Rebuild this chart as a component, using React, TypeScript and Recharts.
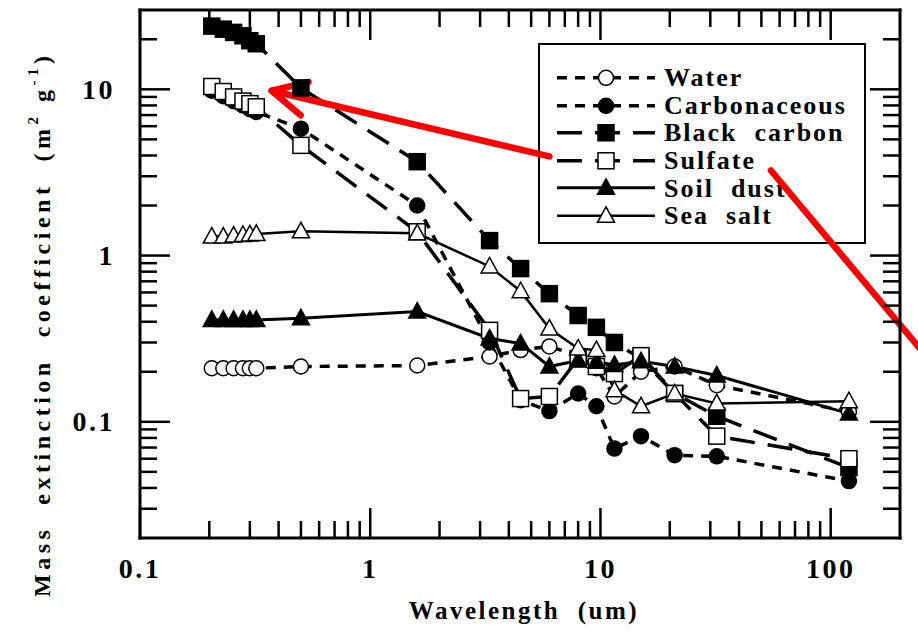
import React from "react";
import { LineChart, Line, XAxis, YAxis, Legend, ReferenceLine, Label } from "recharts";

// band centres (um)
const wavelengths = [0.205, 0.23, 0.255, 0.28, 0.3, 0.32, 0.5, 1.6, 3.3, 4.5, 6, 8, 9.6, 11.5, 15, 21, 32, 120];

// mass extinction coefficient (m2/g)
const water = [0.21, 0.21, 0.21, 0.21, 0.21, 0.21, 0.215, 0.218, 0.247, 0.27, 0.284, 0.25, 0.21, 0.142, 0.2, 0.215, 0.166, 0.115];
const carbonaceous = [9.8, 9.1, 8.5, 8.0, 7.6, 7.3, 5.8, 2.0, 0.3, 0.135, 0.116, 0.148, 0.124, 0.069, 0.082, 0.063, 0.062, 0.044];
const blackCarbon = [24, 23, 22, 21, 19.6, 18.8, 10.2, 3.67, 1.23, 0.835, 0.59, 0.436, 0.37, 0.3, 0.24, 0.148, 0.108, 0.053];
const sulfate = [10.4, 9.7, 9.0, 8.5, 8.2, 7.85, 4.6, 1.39, 0.355, 0.138, 0.142, 0.24, 0.215, 0.195, 0.25, 0.148, 0.082, 0.06];
const soilDust = [0.41, 0.41, 0.41, 0.41, 0.41, 0.41, 0.42, 0.46, 0.317, 0.296, 0.215, 0.234, 0.23, 0.22, 0.231, 0.215, 0.19, 0.112];
const seaSalt = [1.3, 1.3, 1.32, 1.33, 1.34, 1.35, 1.4, 1.36, 0.86, 0.61, 0.364, 0.276, 0.27, 0.155, 0.124, 0.148, 0.129, 0.133];

const xMajorTicks = [0.1, 1, 10, 100];
const xMinorTicks = [0.2, 0.3, 0.4, 0.5, 0.6, 0.7, 0.8, 0.9, 2, 3, 4, 5, 6, 7, 8, 9, 20, 30, 40, 50, 60, 70, 80, 90];
const yMajorTicks = [0.1, 1, 10];
const yMinorTicks = [0.03, 0.04, 0.05, 0.06, 0.07, 0.08, 0.09, 0.2, 0.3, 0.4, 0.5, 0.6, 0.7, 0.8, 0.9, 2, 3, 4, 5, 6, 7, 8, 9, 20];

// red annotation strokes drawn over the figure (tip first)
const arrowSegments = [
  { tip: { x: 0.373, y: 9.8 }, tail: { x: 6.0, y: 3.95 }, head: true },
  { tip: { x: 250, y: 0.265 }, tail: { x: 55, y: 3.25 }, head: false },
];

const data = wavelengths.map((w, i) => ({
  w,
  water: water[i],
  carbonaceous: carbonaceous[i],
  blackCarbon: blackCarbon[i],
  sulfate: sulfate[i],
  soilDust: soilDust[i],
  seaSalt: seaSalt[i],
}));

const FONT = '"Liberation Serif", "Times New Roman", serif';
const MAJOR = 30;
const MINOR = 17;

const series = [
  { key: "water", name: "Water", dash: "10 8", width: 3.5, shape: "circle", filled: false },
  { key: "carbonaceous", name: "Carbonaceous", dash: "10 8", width: 3.5, shape: "circle", filled: true },
  { key: "blackCarbon", name: "Black  carbon", dash: "25 13", width: 3.5, shape: "square", filled: true },
  { key: "sulfate", name: "Sulfate", dash: "25 13", width: 3.5, shape: "square", filled: false },
  { key: "soilDust", name: "Soil  dust", dash: undefined, width: 3, shape: "triangle", filled: true },
  { key: "seaSalt", name: "Sea  salt", dash: undefined, width: 2.5, shape: "triangle", filled: false },
];

function Marker({ cx, cy, shape, filled }: any) {
  const fill = filled ? "#000" : "#fff";
  if (shape === "circle") return <circle cx={cx} cy={cy} r={7.5} fill={fill} stroke="#000" strokeWidth={1.5} />;
  if (shape === "square")
    return <rect x={cx - 8} y={cy - 8} width={16} height={16} fill={fill} stroke="#000" strokeWidth={1.5} />;
  return (
    <polygon
      points={`${cx},${cy - 9} ${cx - 8.5},${cy + 6.5} ${cx + 8.5},${cy + 6.5}`}
      fill={fill}
      stroke="#000"
      strokeWidth={1.5}
    />
  );
}

function XTick(props: any) {
  const { x, y, payload, side } = props;
  const v = payload.value;
  const major = xMajorTicks.includes(v);
  const len = major ? MAJOR : MINOR;
  const dir = side === "bottom" ? -1 : 1;
  return (
    <g>
      <line x1={x} x2={x} y1={y} y2={y + dir * len} stroke="#000" strokeWidth={2.5} />
      {side === "bottom" && major && (
        <text x={x} y={y + 30} textAnchor="middle" dominantBaseline="central" fontFamily={FONT} fontWeight="bold" fontSize={28} letterSpacing={2.5} fill="#000">
          {String(v)}
        </text>
      )}
    </g>
  );
}

function YTick(props: any) {
  const { x, y, payload, side } = props;
  const v = payload.value;
  const major = yMajorTicks.includes(v);
  const len = major ? MAJOR : MINOR;
  const dir = side === "left" ? 1 : -1;
  return (
    <g>
      <line x1={x} x2={x + dir * len} y1={y} y2={y} stroke="#000" strokeWidth={2.5} />
      {side === "left" && major && (
        <text x={x - 25} y={y} textAnchor="end" dominantBaseline="central" fontFamily={FONT} fontWeight="bold" fontSize={28} letterSpacing={2.5} fill="#000">
          {String(v)}
        </text>
      )}
    </g>
  );
}

function arrowShape(p: any) {
  const { x1, y1, x2, y2, head } = p;
  const ang = Math.atan2(y2 - y1, x2 - x1);
  const b = 38;
  const spread = 0.47;
  return (
    <g>
      <line x1={x1} y1={y1} x2={x2} y2={y2} stroke="#ff0000" strokeWidth={6.5} strokeLinecap="round" />
      {head && (
        <polyline
          points={`${x1 + b * Math.cos(ang - spread)},${y1 + b * Math.sin(ang - spread)} ${x1},${y1} ${x1 + b * Math.cos(ang + spread)},${y1 + b * Math.sin(ang + spread)}`}
          fill="none"
          stroke="#ff0000"
          strokeWidth={6.5}
          strokeLinecap="round"
          strokeLinejoin="round"
        />
      )}
    </g>
  );
}

function LegendBox() {
  return (
    <div
      style={{
        boxSizing: "border-box",
        width: 328,
        height: 201,
        border: "2.5px solid #000",
        background: "#fff",
        paddingTop: 19,
        fontFamily: FONT,
      }}
    >
      {series.map((s) => (
        <div key={s.key} style={{ display: "flex", alignItems: "center", height: 27.6 }}>
          <svg width={124} height={27.6} style={{ display: "block" }}>
            <line x1={17} x2={115} y1={13.8} y2={13.8} stroke="#000" strokeWidth={s.width} strokeDasharray={s.dash} />
            <Marker cx={66} cy={13.8} shape={s.shape} filled={s.filled} />
          </svg>
          <span style={{ fontWeight: "bold", fontSize: 26, letterSpacing: 2, whiteSpace: "pre", lineHeight: "27px" }}>
            {s.name}
          </span>
        </div>
      ))}
    </div>
  );
}

const axisLine = { stroke: "#000", strokeWidth: 3, strokeLinecap: "square" as const };
const xTicks = [...xMajorTicks, ...xMinorTicks].sort((a, b) => a - b);
const yTicks = [...yMajorTicks, ...yMinorTicks].sort((a, b) => a - b);

export default function App() {
  return (
    <div style={{ position: "absolute", left: 0, top: 0, zIndex: 0, background: "#fff" }}>
      <LineChart width={918} height={633} data={data} margin={{ top: 9, right: 17, bottom: 0, left: 0 }}>
        <XAxis
          dataKey="w"
          type="number"
          scale="log"
          domain={[0.1, 200]}
          allowDataOverflow
          ticks={xTicks}
          interval={0}
          tickLine={false}
          tickSize={0}
          tickMargin={0}
          tick={(p: any) => <XTick {...p} side="bottom" />}
          axisLine={axisLine}
          height={95}
        >
          <Label
            content={(p: any) => {
              const vb = p.viewBox;
              return (
                <text x={vb.x + vb.width / 2 + 4} y={vb.y + 72} textAnchor="middle" dominantBaseline="central" fontFamily={FONT} fontWeight="bold" fontSize={25} letterSpacing={2.5} style={{ whiteSpace: "pre" }} fill="#000">
                  Wavelength  (um)
                </text>
              );
            }}
          />
        </XAxis>
        <XAxis
          xAxisId="top"
          dataKey="w"
          orientation="top"
          type="number"
          scale="log"
          domain={[0.1, 200]}
          allowDataOverflow
          ticks={xTicks}
          interval={0}
          tickLine={false}
          tickSize={0}
          tickMargin={0}
          tick={(p: any) => <XTick {...p} side="top" />}
          axisLine={axisLine}
          height={1}
        />
        <YAxis
          type="number"
          scale="log"
          domain={[0.02, 30]}
          allowDataOverflow
          ticks={yTicks}
          interval={0}
          tickLine={false}
          tickSize={0}
          tickMargin={0}
          tick={(p: any) => <YTick {...p} side="left" />}
          axisLine={axisLine}
          width={140}
        >
          <Label
            content={() => {
              const cx = 42;
              const cy = 597;
              return (
                <text x={cx} y={cy} transform={`rotate(-90 ${cx} ${cy})`} textAnchor="start" dominantBaseline="central" fontFamily={FONT} fontWeight="bold" fontSize={24} letterSpacing={4.5} style={{ whiteSpace: "pre" }} fill="#000">
                  {"Mass  extinction  coefficient  (m"}
                  <tspan dy={-9} fontSize={15}>2</tspan>
                  <tspan dy={9}>{" g"}</tspan>
                  <tspan dy={-9} fontSize={15}>{"-1"}</tspan>
                  <tspan dy={9}>)</tspan>
                </text>
              );
            }}
          />
        </YAxis>
        <YAxis
          yAxisId="right"
          orientation="right"
          type="number"
          scale="log"
          domain={[0.02, 30]}
          allowDataOverflow
          ticks={yTicks}
          interval={0}
          tickLine={false}
          tickSize={0}
          tickMargin={0}
          tick={(p: any) => <YTick {...p} side="right" />}
          axisLine={axisLine}
          width={1}
        />
        <Legend
          layout="vertical"
          align="center"
          verticalAlign="middle"
          wrapperStyle={{ left: 538, top: 43, width: 328, zIndex: -1 }}
          content={() => <LegendBox />}
        />
        {/* invisible series that ties the mirrored frame axes to the data */}
        <Line
          xAxisId="top"
          yAxisId="right"
          dataKey="water"
          stroke="none"
          dot={false}
          activeDot={false}
          legendType="none"
          isAnimationActive={false}
        />
        {series.map((s) => (
          <Line
            key={s.key}
            dataKey={s.key}
            name={s.name}
            type="linear"
            stroke="#000"
            strokeWidth={s.width}
            strokeDasharray={s.dash}
            isAnimationActive={false}
            activeDot={false}
            dot={(p: any) => <Marker key={`${s.key}-${p.index}`} cx={p.cx} cy={p.cy} shape={s.shape} filled={s.filled} />}
          />
        ))}
        {arrowSegments.map((a, i) => (
          <ReferenceLine
            key={`arrow-${i}`}
            segment={[a.tip, a.tail]}
            ifOverflow="visible"
            shape={(p: any) => arrowShape({ ...p, head: a.head })}
          />
        ))}
      </LineChart>
    </div>
  );
}
